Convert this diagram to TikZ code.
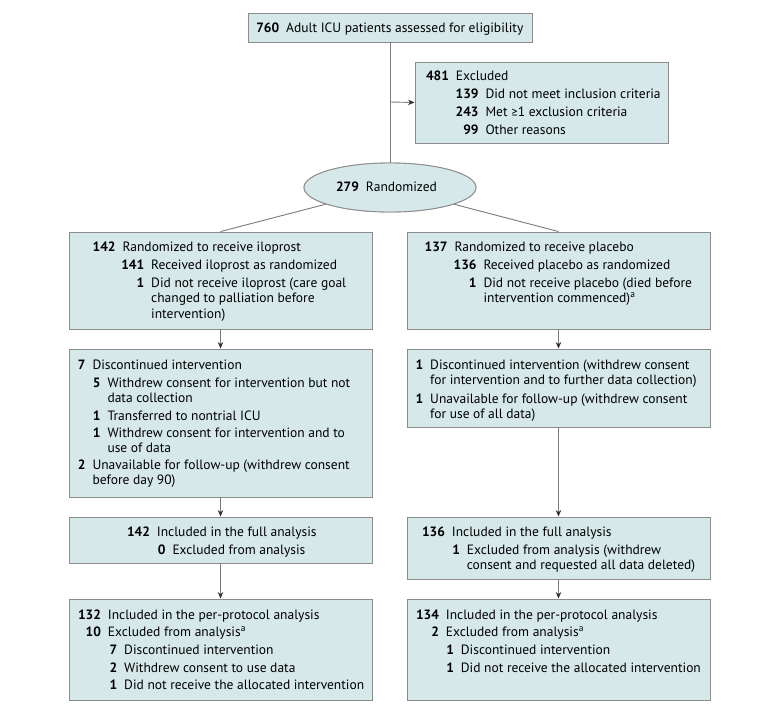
\documentclass[tikz,border=0pt]{standalone}
\usepackage{fontspec}
\setmainfont{PT Sans}
\newfontfamily\symfont{Carlito}
\usetikzlibrary{arrows.meta,shapes.geometric}
\definecolor{boxfill}{HTML}{D6E8E9}
\definecolor{boxline}{HTML}{8C8C8C}
\definecolor{conline}{HTML}{7A7A7A}
\tikzset{
  flowbox/.style={draw=boxline, fill=boxfill, line width=0.9pt, inner sep=0pt, rectangle},
  ellbox/.style={draw=boxline, fill=boxfill, line width=0.9pt, ellipse, minimum width=172, minimum height=49, inner sep=0pt},
  conn/.style={draw=conline, line width=0.9pt},
  arr/.style={conn, -{Stealth[length=6.5pt,width=5.5pt,color=black!80]}},
  numtxt/.style={inner sep=0pt, anchor=base east, font=\fontsize{13.5}{15.5}\selectfont\bfseries},
  bodytxt/.style={inner sep=0pt, anchor=base west, font=\fontsize{13.5}{15.5}\selectfont},
}
% entry: text x, baseline y, number, text lines
\newcommand\Ent[4]{%
  \node[numtxt] at (#1-6.5,#2) {#3};
  \node[bodytxt] at (#1,#2) {\begin{tabular}[t]{@{}l@{}}#4\end{tabular}};}
\newcommand\sa{\textsuperscript{a}}
\begin{document}
\begin{tikzpicture}[x=1pt,y=-1pt]
\useasboundingbox (0,0) rectangle (780,713);
% boxes
\node[flowbox, minimum width=284, minimum height=29] (top) at (390,27.5) {};
\node[flowbox, minimum width=253, minimum height=81] (excl) at (541.5,102.5) {};
\node[ellbox] (rand) at (390,187.5) {};
\node[flowbox, minimum width=303, minimum height=97] (l1) at (220.5,280.5) {};
\node[flowbox, minimum width=303, minimum height=97] (r1) at (558.5,280.5) {};
\node[flowbox, minimum width=303, minimum height=148] (l2) at (220.5,423) {};
\node[flowbox, minimum width=303, minimum height=78] (r2) at (558.5,388) {};
\node[flowbox, minimum width=303, minimum height=46] (l3) at (220.5,540) {};
\node[flowbox, minimum width=303, minimum height=62] (r3) at (558.5,548) {};
\node[flowbox, minimum width=303, minimum height=101] (l4) at (220.5,649.5) {};
\node[flowbox, minimum width=303, minimum height=101] (r4) at (558.5,649.5) {};
\coordinate (branch) at (390,102);
% connectors
\draw[conn] (top.south) -- (rand.north);
\draw[arr] (branch) -- (excl.west);
\draw[conn] (rand) -- (l1.north);
\draw[conn] (rand) -- (r1.north);
\draw[arr] (l1.south) -- (l2.north);
\draw[arr] (r1.south) -- (r2.north);
\draw[arr] (l2.south) -- (l3.north);
\draw[arr] (r2.south) -- (r3.north);
\draw[arr] (l3.south) -- (l4.north);
\draw[arr] (r3.south) -- (r4.north);
% redraw ellipse on top of lines
\node[ellbox] at (390,187.5) {};
% texts
\Ent{286}{32}{760}{Adult ICU patients assessed for eligibility}
\Ent{455.7}{80.7}{481}{Excluded}
\Ent{485.3}{98.7}{139}{Did not meet inclusion criteria}
\Ent{485.3}{116.7}{243}{Met {\symfont ≥}1 exclusion criteria}
\Ent{485.3}{134.3}{99}{Other reasons}
\Ent{365.7}{191.7}{279}{Randomized}
% L1
\Ent{122.3}{251}{142}{Randomized to receive iloprost}
\Ent{151}{269}{141}{Received iloprost as randomized}
\Ent{151}{287}{1}{Did not receive iloprost (care goal\\changed to palliation before\\intervention)}
% R1
\Ent{454.3}{251}{137}{Randomized to receive placebo}
\Ent{483.3}{269}{136}{Received placebo as randomized}
\Ent{483.3}{287}{1}{Did not receive placebo (died before\\intervention commenced)\sa}
% L2
\Ent{92.3}{369}{7}{Discontinued intervention}
\Ent{107.3}{387}{5}{Withdrew consent for intervention but not\\data collection}
\Ent{107.3}{420}{1}{Transferred to nontrial ICU}
\Ent{107.3}{437}{1}{Withdrew consent for intervention and to\\use of data}
\Ent{92.3}{469}{2}{Unavailable for follow-up (withdrew consent\\before day 90)}
% R2
\Ent{430}{369.3}{1}{Discontinued intervention (withdrew consent\\for intervention and to further data collection)}
\Ent{430}{403.3}{1}{Unavailable for follow-up (withdrew consent\\for use of all data)}
% L3
\Ent{156.7}{536.7}{142}{Included in the full analysis}
\Ent{172.3}{554.3}{0}{Excluded from analysis}
% R3
\Ent{451.7}{536.7}{136}{Included in the full analysis}
\Ent{466.7}{554.3}{1}{Excluded from analysis (withdrew\\consent and requested all data deleted)}
% L4
\Ent{107.7}{619}{132}{Included in the per-protocol analysis}
\Ent{107.7}{636.7}{10}{Excluded from analysis\sa}
\Ent{124}{654.3}{7}{Discontinued intervention}
\Ent{124}{672}{2}{Withdrew consent to use data}
\Ent{124}{689.5}{1}{Did not receive the allocated intervention}
% R4
\Ent{445.7}{619}{134}{Included in the per-protocol analysis}
\Ent{445.7}{636.7}{2}{Excluded from analysis\sa}
\Ent{460.7}{654.3}{1}{Discontinued intervention}
\Ent{460.7}{672}{1}{Did not receive the allocated intervention}
\end{tikzpicture}
\end{document}
